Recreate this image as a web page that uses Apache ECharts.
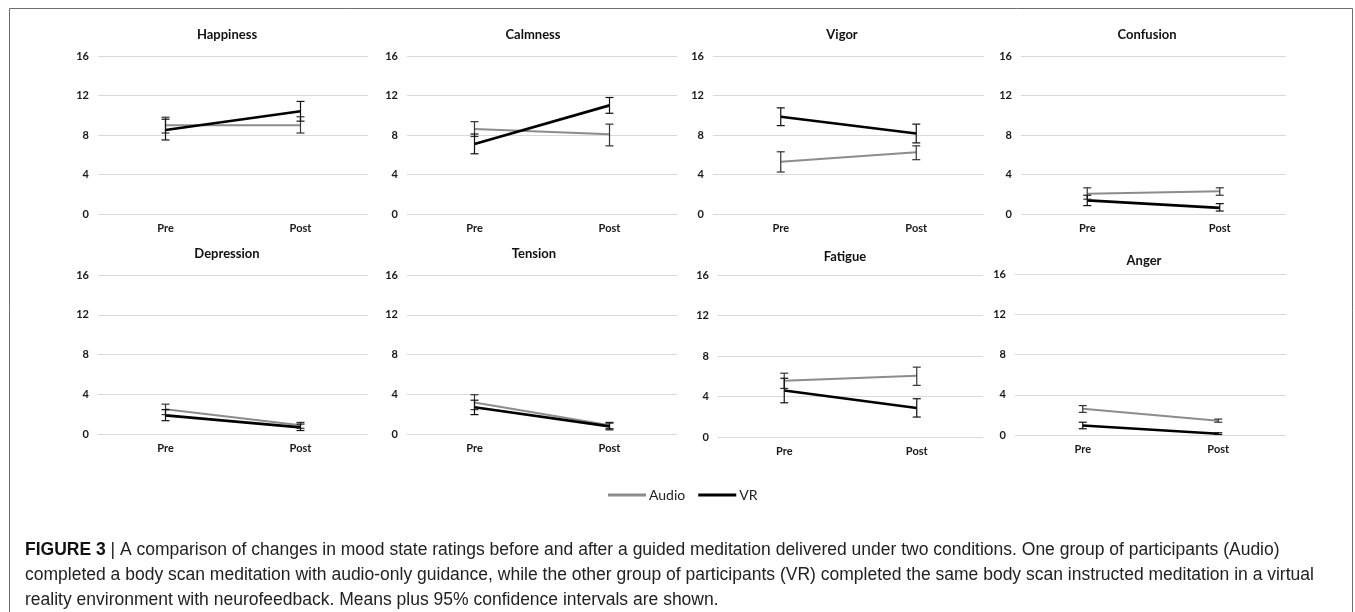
<!DOCTYPE html>
<html>
<head>
<meta charset="utf-8">
<title>Mood state ratings</title>
<script src="https://cdn.jsdelivr.net/npm/echarts@6/dist/echarts.min.js"></script>
<style>
  html, body { margin: 0; padding: 0; background: #fff; }
  #chart { width: 1355px; height: 612px; }
</style>
</head>
<body>
<div id="chart"></div>
<script>
// data (means and 95% CI bounds, Pre / Post)
const categories = ['Pre', 'Post'];
const moods = ['Happiness', 'Calmness', 'Vigor', 'Confusion', 'Depression', 'Tension', 'Fatigue', 'Anger'];
const yTicks = [0, 4, 8, 12, 16];

const audioMean = [[9.0, 9.0], [8.6, 8.07], [5.3, 6.25], [2.05, 2.3], [2.5, 0.87], [3.18, 0.87], [5.56, 6.05], [2.6, 1.42]];
const audioLow  = [[8.2, 8.2], [7.85, 6.9], [4.25, 5.5], [1.5, 1.9], [1.95, 0.57], [2.45, 0.55], [4.8, 5.1], [2.25, 1.27]];
const audioHigh = [[9.8, 9.85], [9.35, 9.1], [6.3, 6.9], [2.65, 2.65], [3.0, 1.17], [3.95, 1.17], [6.3, 6.9], [2.92, 1.58]];

const vrMean = [[8.5, 10.4], [7.1, 11.0], [9.85, 8.15], [1.38, 0.62], [1.87, 0.67], [2.7, 0.77], [4.6, 2.86], [0.95, 0.13]];
const vrLow  = [[7.5, 9.4], [6.1, 10.2], [8.95, 7.2], [0.85, 0.3], [1.34, 0.35], [1.95, 0.42], [3.38, 1.97], [0.62, 0.05]];
const vrHigh = [[9.6, 11.4], [8.1, 11.8], [10.75, 9.1], [1.9, 1.05], [2.45, 1.0], [3.4, 1.1], [5.8, 3.78], [1.27, 0.22]];

// panel boxes in pixels: left, top, width, height; title centre
const boxes = [
  { left: 98, top: 56, width: 270, height: 158, tx: 227, ty: 35 },
  { left: 407, top: 56, width: 270, height: 158, tx: 533, ty: 35 },
  { left: 713, top: 56, width: 271, height: 158, tx: 842, ty: 35 },
  { left: 1021, top: 56, width: 265, height: 158, tx: 1147, ty: 35 },
  { left: 98, top: 275, width: 270, height: 159, tx: 227, ty: 254 },
  { left: 407, top: 275, width: 270, height: 159, tx: 534, ty: 254 },
  { left: 718, top: 275, width: 265, height: 162, tx: 845, ty: 257 },
  { left: 1015, top: 274, width: 271, height: 161, tx: 1144, ty: 261 }
];

const AUDIO = '#8c8c8c';
const VR = '#000000';
const FONT = 'Lato, "Open Sans", sans-serif';

let myChart = echarts.init(document.getElementById('chart'));

function errorBar(params, api) {
  let x = api.value(0);
  let lo = api.coord([x, api.value(1)]);
  let hi = api.coord([x, api.value(2)]);
  let w = 4;
  let style = { stroke: api.visual('color'), lineWidth: 1.2 };
  return {
    type: 'group',
    children: [
      { type: 'line', shape: { x1: hi[0], y1: hi[1], x2: lo[0], y2: lo[1] }, style: style },
      { type: 'line', shape: { x1: hi[0] - w, y1: hi[1], x2: hi[0] + w, y2: hi[1] }, style: style },
      { type: 'line', shape: { x1: lo[0] - w, y1: lo[1], x2: lo[0] + w, y2: lo[1] }, style: style }
    ]
  };
}

let grids = [], xAxes = [], yAxes = [], series = [], graphics = [];

moods.forEach(function (name, i) {
  let b = boxes[i];
  grids.push({ left: b.left, top: b.top, width: b.width, height: b.height, containLabel: false });
  xAxes.push({
    type: 'category', gridIndex: i, data: categories, boundaryGap: true,
    axisLine: { show: false }, axisTick: { show: false },
    axisLabel: { margin: 9, fontFamily: FONT, fontWeight: 'bold', fontSize: 11, color: '#1a1a1a' }
  });
  yAxes.push({
    type: 'value', gridIndex: i, min: yTicks[0], max: yTicks[yTicks.length - 1], interval: 4,
    axisLine: { show: false }, axisTick: { show: false },
    axisLabel: { margin: 9, fontFamily: FONT, fontWeight: 'bold', fontSize: 11, color: '#1a1a1a' },
    splitLine: { lineStyle: { color: '#d9d9d9', width: 1 } }
  });

  series.push({
    name: 'Audio', type: 'line', xAxisIndex: i, yAxisIndex: i,
    data: audioMean[i], showSymbol: false, silent: true,
    lineStyle: { color: AUDIO, width: 2 }, itemStyle: { color: AUDIO }, z: 3
  });
  series.push({
    name: 'VR', type: 'line', xAxisIndex: i, yAxisIndex: i,
    data: vrMean[i], showSymbol: false, silent: true,
    lineStyle: { color: VR, width: 2.6 }, itemStyle: { color: VR }, z: 4
  });
  series.push({
    name: 'Audio CI', type: 'custom', xAxisIndex: i, yAxisIndex: i,
    renderItem: errorBar, silent: true, z: 5,
    itemStyle: { color: '#333333' },
    encode: { x: 0, y: [1, 2] },
    data: categories.map(function (c, k) { return [k, audioLow[i][k], audioHigh[i][k]]; })
  });
  series.push({
    name: 'VR CI', type: 'custom', xAxisIndex: i, yAxisIndex: i,
    renderItem: errorBar, silent: true, z: 5,
    itemStyle: { color: '#111111' },
    encode: { x: 0, y: [1, 2] },
    data: categories.map(function (c, k) { return [k, vrLow[i][k], vrHigh[i][k]]; })
  });

  graphics.push({
    type: 'text', x: b.tx, y: b.ty,
    style: { text: name, align: 'center', verticalAlign: 'middle', font: 'bold 13px ' + FONT, fill: '#111' }
  });
});

// outer frame
graphics.push({
  type: 'rect', shape: { x: 9.5, y: 8.5, width: 1343, height: 640 },
  style: { fill: 'none', stroke: '#6e6e6e', lineWidth: 1 }, z: -1
});

// caption
const captionLines = [
  '{b|FIGURE 3} | A comparison of changes in mood state ratings before and after a guided meditation delivered under two conditions. One group of participants (Audio)',
  'completed a body scan meditation with audio-only guidance, while the other group of participants (VR) completed the same body scan instructed meditation in a virtual',
  'reality environment with neurofeedback. Means plus 95% confidence intervals are shown.'
];
const CAP_FONT = '"Liberation Sans", Arial, sans-serif';
captionLines.forEach(function (t, k) {
  graphics.push({
    type: 'text', x: 25, y: 550 + k * 25,
    style: {
      text: t, verticalAlign: 'middle', fill: '#222',
      font: '17.5px ' + CAP_FONT,
      rich: { b: { font: 'bold 17.5px ' + CAP_FONT, fill: '#111' } }
    }
  });
});

let option = {
  animation: false,
  grid: grids,
  xAxis: xAxes,
  yAxis: yAxes,
  legend: {
    data: ['Audio', 'VR'],
    left: 603, top: 483,
    icon: 'rect', itemWidth: 38, itemHeight: 3, itemGap: 13,
    textStyle: { fontFamily: FONT, fontSize: 14, color: '#222', padding: [0, 0, 0, -2] }
  },
  series: series,
  graphic: graphics
};

myChart.setOption(option);
window.addEventListener('resize', function () { myChart.resize(); });
</script>
</body>
</html>
